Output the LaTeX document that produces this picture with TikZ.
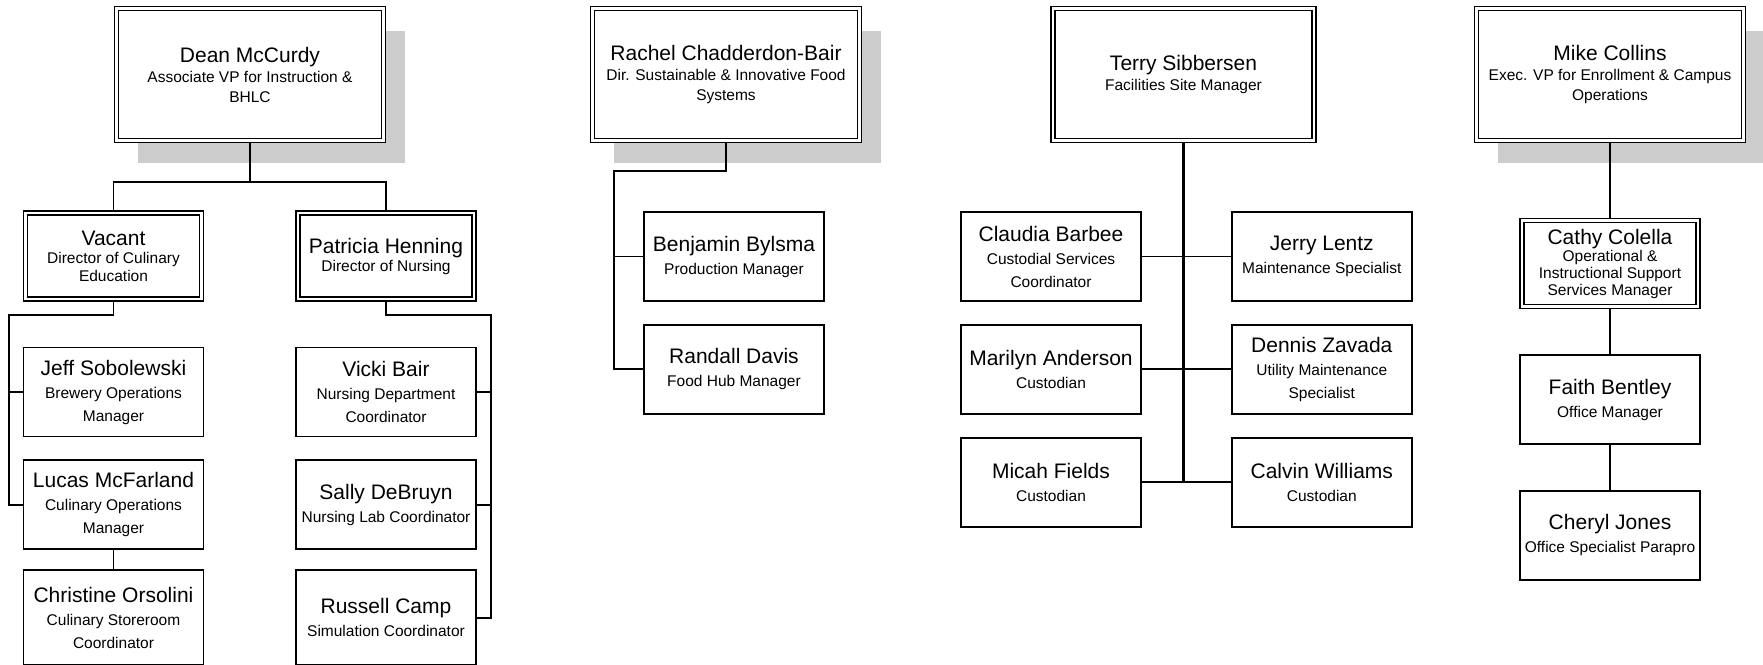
\documentclass[tikz,border=0pt]{standalone}
\usepackage{fontspec}
\setmainfont{Liberation Sans}
\usetikzlibrary{positioning,shadows}
\definecolor{shadowC}{HTML}{CCCCCC}
\newcommand{\who}[1]{{\fontsize{21}{24}\selectfont #1}\\}
\tikzset{
  person/.style={draw, line width=1.8pt, align=center, inner sep=2pt, fill=white,
                 minimum width=180pt, minimum height=89pt,
                 font=\fontsize{15.5}{23}\selectfont},
  lead/.style={person, double, double distance=2.3pt, line width=1.5pt, outer sep=2.6pt,
               minimum width=176pt, minimum height=86pt,
               font=\fontsize{15.5}{18}\selectfont},
  head/.style={lead, minimum width=267pt, minimum height=132pt,
               font=\fontsize{15.5}{20}\selectfont},
  shade/.style={general shadow={fill=shadowC, draw=none, shadow xshift=21pt, shadow yshift=-22pt}},
  link/.style={line width=1.9pt},
  trunk/.style={line width=3pt},
}

\begin{document}
\begin{tikzpicture}[x=1pt, y=-1pt]
\useasboundingbox (0,0) rectangle (1763,664);

\node[head, shade] (dean) at (250,74.5) {\who{Dean McCurdy}Associate VP for Instruction \&\\BHLC};
\node[lead] (vacant) at (113.5,256) {\who{Vacant}Director of Culinary\\Education};
\node[lead] (patricia) at (386,256) {\who{Patricia Henning}Director of Nursing};
\node[person, below=45pt of vacant] (jeff) {\who{Jeff Sobolewski}Brewery Operations\\Manager};
\node[person, below=22pt of jeff] (lucas) {\who{Lucas McFarland}Culinary Operations\\Manager};
\node[person, below=22pt of lucas, minimum height=95pt, yshift=3pt] (christine) {\who{Christine Orsolini}Culinary Storeroom\\Coordinator};
\node[person, below=45pt of patricia] (vicki) {\who{Vicki Bair}Nursing Department\\Coordinator};
\node[person, below=22pt of vicki] (sally) {\who{Sally DeBruyn}Nursing Lab Coordinator};
\node[person, below=22pt of sally, minimum height=95pt, yshift=3pt] (russell) {\who{Russell Camp}Simulation Coordinator};
\draw[link] (dean.south) -- ++(0,39) coordinate (deanfork);
\draw[link] (vacant.north) |- (deanfork) -| (patricia.north);
\coordinate (culbus) at (9,315);
\coordinate (nurbus) at (491,315);
\draw[link] (vacant.south) |- (culbus) |- (lucas.west);
\draw[link] (jeff.west) -- (jeff.west -| culbus);
\draw[link] (lucas) -- (christine);
\draw[link] (patricia.south) |- (nurbus) |- (russell.east);
\draw[link] (vicki.east) -- (vicki.east -| nurbus);
\draw[link] (sally.east) -- (sally.east -| nurbus);

\node[head, shade] (rachel) at (726,74.5) {\who{Rachel Chadderdon-Bair}Dir. Sustainable \& Innovative Food\\Systems};
\node[person] (benjamin) at (734,256.5) {\who{Benjamin Bylsma}Production Manager};
\node[person, below=22pt of benjamin] (randall) {\who{Randall Davis}Food Hub Manager};
\coordinate (foodbus) at (614,171);
\draw[link] (rachel.south) |- (foodbus) |- (randall.west);
\draw[link] (benjamin.west) -- (benjamin.west -| foodbus);

\node[head, minimum width=261pt] (terry) at (1183.5,74.5) {\who{Terry Sibbersen}Facilities Site Manager};
\node[person] (claudia) at (1051,256.5) {\who{Claudia Barbee}Custodial Services\\Coordinator};
\node[person, below=22pt of claudia] (marilyn) {\who{Marilyn Anderson}Custodian};
\node[person, below=22pt of marilyn] (micah) {\who{Micah Fields}Custodian};
\node[person, right=89pt of claudia] (jerry) {\who{Jerry Lentz}Maintenance Specialist};
\node[person, below=22pt of jerry] (dennis) {\who{Dennis Zavada}Utility Maintenance\\Specialist};
\node[person, below=22pt of dennis] (calvin) {\who{Calvin Williams}Custodian};
\draw[trunk] (terry.south) -- (terry.south |- micah.east);
\draw[link] (claudia.east) -- (jerry.west);
\draw[link] (marilyn.east) -- (dennis.west);
\draw[link] (micah.east) -- (calvin.west);

\node[head, shade] (mike) at (1610,74.5) {\who{Mike Collins}Exec. VP for Enrollment \& Campus\\Operations};
\node[lead, font=\fontsize{15.5}{17}\selectfont] (cathy) at (1610,263.5) {\who{Cathy Colella}Operational \&\\Instructional Support\\Services Manager};
\node[person, below=45pt of cathy] (faith) {\who{Faith Bentley}Office Manager};
\node[person, below=45pt of faith] (cheryl) {\who{Cheryl Jones}Office Specialist Parapro};
\draw[link] (mike) -- (cathy);
\draw[link] (cathy) -- (faith);
\draw[link] (faith) -- (cheryl);
\end{tikzpicture}
\end{document}
